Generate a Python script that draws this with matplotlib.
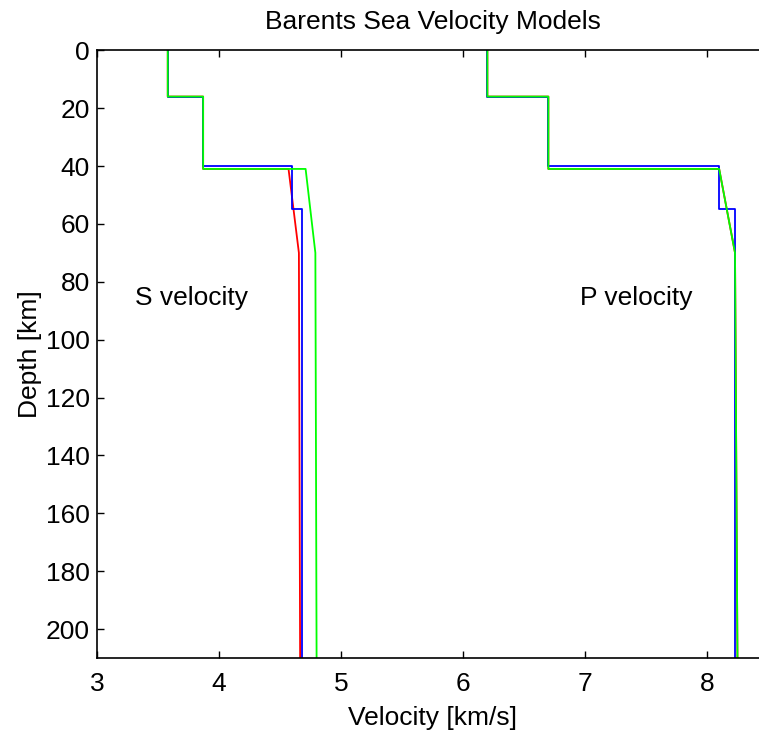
import numpy as np
import matplotlib
matplotlib.use('Agg')
import matplotlib.pyplot as plt

plt.rcParams['font.family'] = ['Liberation Sans', 'DejaVu Sans']

# depth [km] and velocity [km/s] for the three models
red_depth = [0, 16, 16, 41, 41, 70, 210]
red_vs = [3.58, 3.58, 3.87, 3.87, 4.57, 4.655, 4.665]
red_vp = [6.2, 6.2, 6.7, 6.7, 8.10, 8.23, 8.25]

blue_depth = [0, 16, 16, 40, 40, 55, 55, 210]
blue_vs = [3.58, 3.58, 3.87, 3.87, 4.60, 4.60, 4.68, 4.68]
blue_vp = [6.2, 6.2, 6.7, 6.7, 8.10, 8.10, 8.23, 8.23]

green_depth = [0, 16, 16, 41, 41, 70, 210]
green_vs = [3.58, 3.58, 3.87, 3.87, 4.71, 4.79, 4.80]
green_vp = [6.2, 6.2, 6.7, 6.7, 8.10, 8.23, 8.25]

models = [
    (red_depth, red_vs, red_vp, 'r'),
    (blue_depth, blue_vs, blue_vp, 'b'),
    (green_depth, green_vs, green_vp, (0, 1, 0)),
]

fs = 19

fig = plt.figure(figsize=(7.59, 7.34), dpi=100)
ax = fig.add_axes([0.1278, 0.1035, 0.884, 0.828])

for depth, vs, vp, col in models:
    ax.plot(vs, depth, color=col, lw=1.3)
    ax.plot(vp, depth, color=col, lw=1.3)

ax.set_xlim(3, 8.5)
ax.set_ylim(210, 0)
ax.set_xticks([3, 4, 5, 6, 7, 8])
ax.set_yticks(np.arange(0, 201, 20))
for s in ax.spines.values():
    s.set_linewidth(1.2)
ax.tick_params(direction='in', top=True, right=True, labelsize=fs, length=5, width=1)
ax.tick_params(axis='x', pad=10)
ax.tick_params(axis='y', pad=5)
ax.set_xlabel('Velocity [km/s]', fontsize=fs, labelpad=7)
ax.set_ylabel('Depth [km]', fontsize=fs, labelpad=3)
ax.set_title('Barents Sea Velocity Models', fontsize=fs, pad=15)

ax.text(3.31, 85.5, 'S velocity', fontsize=fs, va='center')
ax.text(6.96, 85.5, 'P velocity', fontsize=fs, va='center')

fig.savefig('out.png', dpi=100)
